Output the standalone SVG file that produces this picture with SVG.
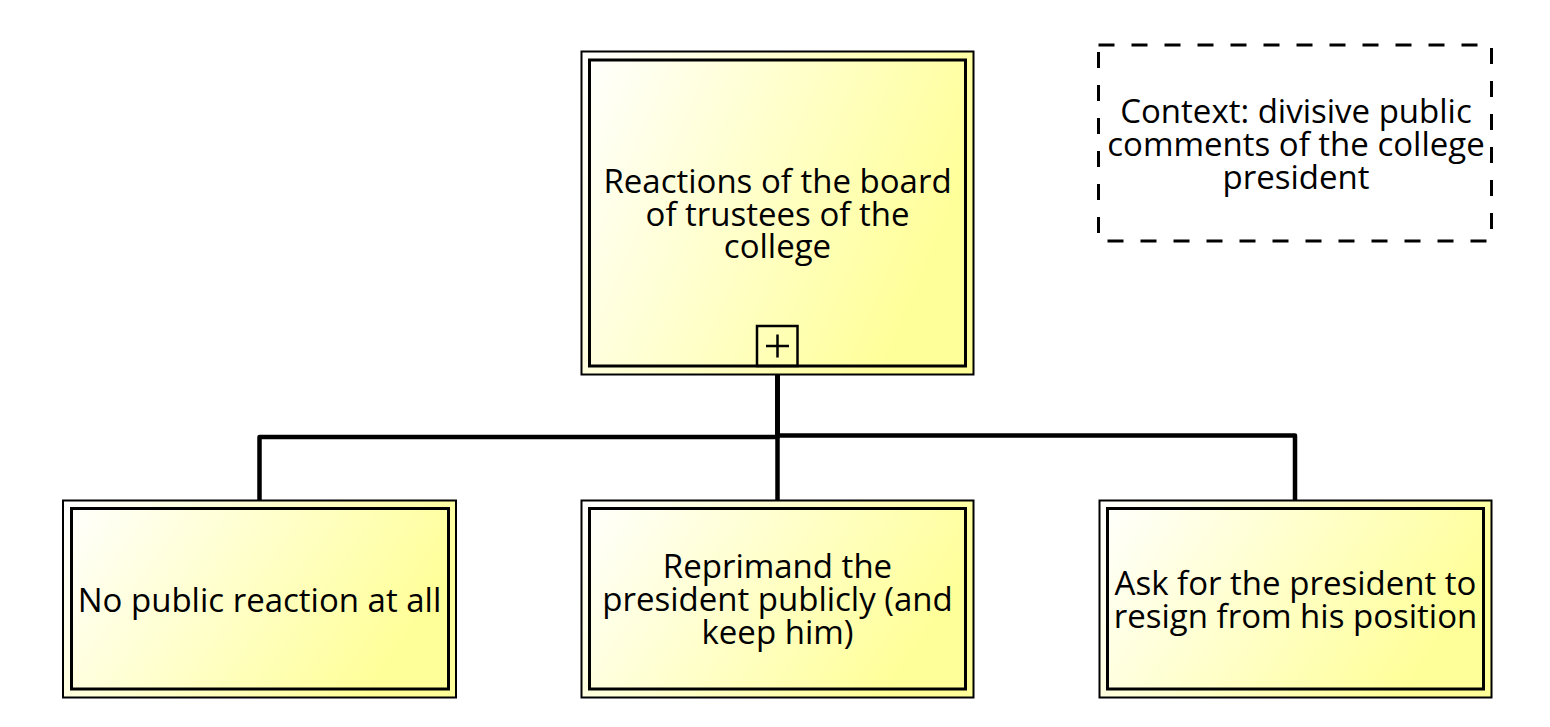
<svg xmlns="http://www.w3.org/2000/svg" width="1550" height="727" viewBox="0 0 1550 727">
<defs>
<linearGradient id="fill" x1="0" y1="0" x2="1" y2="0.35">
<stop offset="0" stop-color="#ffffff"/>
<stop offset="1" stop-color="#ffff99"/>
</linearGradient>
<style>
.outer{fill:url(#fill);stroke:#000;stroke-width:2}
.inner{fill:none;stroke:#000;stroke-width:3}
.lbl{font-family:"Open Sans","Noto Sans",sans-serif;font-size:33px;fill:#000;text-anchor:middle}
.conn{fill:none;stroke:#000;stroke-width:4.5;stroke-linejoin:round}
.ctx{fill:#fff;stroke:#000;stroke-width:3;stroke-dasharray:16 17}
</style>
</defs>
<rect width="1550" height="727" fill="#fff"/>
<g id="connectors">
<path class="conn" d="M777.5 375 V437 H259.5 V500"/>
<path class="conn" d="M777.5 375 V500"/>
<path class="conn" d="M777.5 375 V435.5 H1295 V500"/>
</g>
<g id="node-top">
<rect class="outer" x="581.5" y="51.5" width="392" height="323"/>
<rect class="inner" x="589.5" y="60" width="376" height="306"/>
<rect x="757" y="326" width="40.5" height="40" fill="none" stroke="#000" stroke-width="2.5"/>
<path d="M766 346 H789 M777.5 334.5 V357.5" stroke="#000" stroke-width="2.5"/>
<text class="lbl" x="777.5" y="193">Reactions of the board</text>
<text class="lbl" x="777.5" y="225.5">of trustees of the</text>
<text class="lbl" x="777.5" y="258">college</text>
</g>
<g id="node-context">
<path class="ctx" d="M1098.5 45 H1491.5 V241 H1098.5 Z"/>
<text class="lbl" x="1296" y="122.5">Context: divisive public</text>
<text class="lbl" x="1296" y="155.5">comments of the college</text>
<text class="lbl" x="1296" y="188.5">president</text>
</g>
<g id="node-left">
<rect class="outer" x="63" y="500.5" width="393" height="197"/>
<rect class="inner" x="71.5" y="508.5" width="377" height="180.5"/>
<text class="lbl" x="259.5" y="612">No public reaction at all</text>
</g>
<g id="node-middle">
<rect class="outer" x="581.5" y="500.5" width="392" height="197"/>
<rect class="inner" x="589.5" y="508.5" width="376" height="180.5"/>
<text class="lbl" x="777.5" y="578">Reprimand the</text>
<text class="lbl" x="777.5" y="611">president publicly (and</text>
<text class="lbl" x="777.5" y="644">keep him)</text>
</g>
<g id="node-right">
<rect class="outer" x="1099.5" y="500.5" width="392" height="197"/>
<rect class="inner" x="1107.5" y="508.5" width="376" height="180.5"/>
<text class="lbl" x="1295.5" y="595">Ask for the president to</text>
<text class="lbl" x="1295.5" y="628">resign from his position</text>
</g>
</svg>
